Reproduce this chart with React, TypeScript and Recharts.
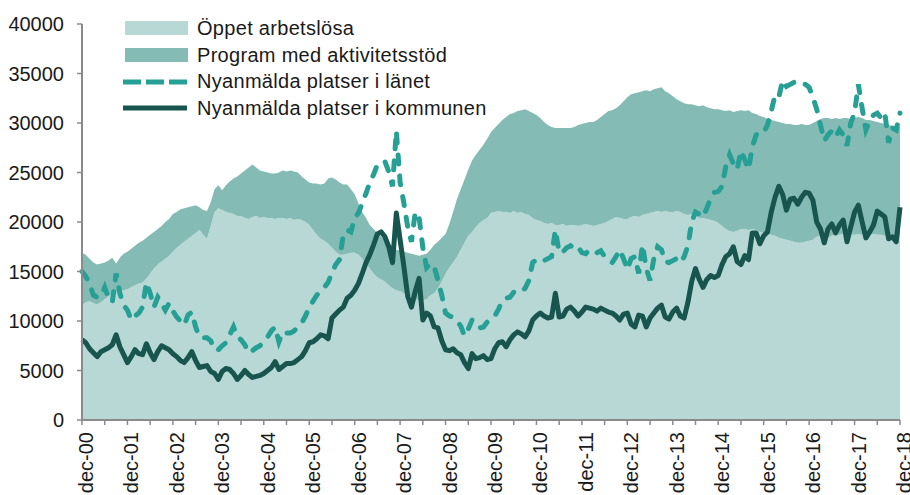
import React from 'react';
import { ComposedChart, Area, Line, XAxis, YAxis } from 'recharts';

// monthly values, dec-00 .. dec-18
const oppetArbetslosa = [
  11600, 11900, 12000, 11800, 11700, 11900, 12200, 12500, 12800, 12900, 13000, 13100,
  13200, 13400, 13600, 13800, 13900, 14300, 14800, 15300, 15700, 16000, 16300, 16600,
  17000, 17400, 17700, 18000, 18300, 18600, 18900, 19200, 18700, 18300, 19600, 21000,
  21400, 21200, 21000, 20900, 20800, 20600, 20600, 20400, 20300, 20500, 20600, 20400,
  20500, 20400, 20400, 20300, 20400, 20400, 20300, 20400, 20200, 20300, 20200, 20000,
  19700, 19200, 18700, 18300, 18100, 17800, 17400, 17000, 16700, 16700, 16800, 16900,
  16900, 16700, 16300, 15800, 15300, 14800, 14400, 14200, 14000, 13600, 13300, 13100,
  13000, 12800, 12600, 12400, 12200, 12100, 12100, 12200, 12600, 12800, 13300, 14000,
  14800, 15400, 15900, 16500, 17200, 17900, 18600, 19000, 19500, 19900, 20200, 20400,
  20900, 21000, 21100, 21000, 21000, 20900, 21100, 20900, 21000, 20800, 20700, 20400,
  20200, 20100, 19900, 19800, 19900, 19700, 19700, 19800, 19600, 19700, 19700, 19600,
  19700, 19800, 19700, 19600, 19700, 19800, 19900, 20100, 20300, 20500, 20400, 20300,
  20300, 20500, 20600, 20500, 20700, 20800, 20900, 21000, 21100, 21000, 21100, 21000,
  21000, 21100, 21000, 20800, 20700, 20800, 20600, 20400, 20400, 20300, 20200, 20100,
  19900, 19600, 19300, 19100, 19000, 19100, 19300, 19300, 19200, 19300, 19200, 19000,
  18900, 18800, 18700, 18600, 18400, 18300, 18200, 18100, 18000, 17900, 17900, 18000,
  18100, 18200, 18500, 18600, 18500, 18400, 18600, 18700, 18700, 18800, 18700, 18700,
  18700, 18800, 18700, 18600, 18700, 18800, 18700, 18700, 18600, 18500, 18600, 18700,
  18700,
];

const programAktivitetsstod = [
  5300, 4800, 4300, 4100, 4000, 3900, 3700, 3600, 3600, 2900, 3400, 3700,
  3800, 3900, 4000, 4100, 4200, 4100, 3900, 3700, 3600, 3600, 3700, 3700,
  3800, 3600, 3600, 3400, 3200, 3000, 2800, 2300, 2500, 2800, 2400, 2300,
  2300, 2000, 2700, 3200, 3600, 4000, 4300, 4800, 5200, 5300, 4900, 4800,
  4600, 4600, 4500, 4600, 4600, 4800, 4800, 4800, 4900, 4700, 4400, 4300,
  4300, 4700, 5200, 5500, 5800, 6600, 7100, 7300, 7300, 7100, 7000, 6400,
  5900, 5200, 4700, 4600, 4400, 4500, 4500, 4300, 4200, 4200, 4200, 4100,
  4100, 4200, 4300, 4400, 4500, 4500, 4600, 4600, 4600, 4900, 4700, 4400,
  4000, 4400, 5100, 5800, 6100, 6400, 6700, 7200, 7300, 7400, 7600, 8000,
  8200, 8500, 8800, 9300, 9600, 10000, 9900, 10300, 10300, 10600, 10500, 10600,
  10600, 10400, 10200, 10000, 9700, 9800, 9800, 9700, 9900, 9800, 9900, 10200,
  10200, 10200, 10400, 10500, 10600, 10800, 11000, 11100, 11000, 11000, 11400, 11900,
  12300, 12400, 12400, 12600, 12500, 12500, 12300, 12400, 12400, 12600, 12100, 12000,
  11700, 11300, 11200, 11200, 11200, 11100, 11200, 11300, 11400, 11300, 11300, 11300,
  11500, 11700, 11900, 12200, 12100, 12100, 12000, 11900, 12100, 11700, 11700, 11700,
  11700, 11600, 11600, 11600, 11700, 11700, 11700, 11800, 11800, 11900, 12000, 11800,
  11700, 11800, 11700, 11800, 12000, 12100, 11800, 11800, 11700, 11700, 11800, 11700,
  11800, 11800, 11800, 11700, 11600, 11400, 11400, 11300, 11300, 11300, 11100, 10900,
  10900,
];

const platserLanet = [
  15000, 14500, 13800, 12600, 12400, 12500, 13400, 12300, 11900, 14800, 12800, 11600,
  11100, 10100, 10500, 10800, 11400, 13900, 12800, 11400, 12400, 11800, 11100, 11800,
  11000, 10400, 10000, 9600, 10600, 10900, 9400, 8400, 8300, 8300, 8000, 7100,
  7100, 7500, 7800, 8600, 9400, 8400, 8100, 7600, 6800, 7000, 7300, 7500,
  7900, 8400, 9000, 9400, 7900, 8900, 8800, 8800, 9000, 9400, 9800, 10500,
  11400, 12000, 12600, 13100, 13400, 13900, 14900, 15700, 16200, 18700, 19200, 19000,
  20400, 20900, 21900, 22900, 24000, 24800, 25800, 26000, 26100, 25100, 23600, 29200,
  24000, 21900, 19500, 18000, 21000, 20500, 17400, 15400, 15800, 15500, 14100, 12600,
  10800, 10500, 10400, 10000, 9500, 8500, 9200, 10100, 9800, 9300, 9400, 9900,
  10200, 10500, 11200, 12100, 12300, 12400, 12900, 13100, 13000, 13300, 14100, 15900,
  16200, 16300, 16100, 16300, 16500, 19200, 16900, 17000, 17400, 17600, 17300, 17500,
  16900, 16800, 17200, 17100, 16900, 17100, 16500, 16200, 15900, 16500, 17200, 16300,
  15200, 16300, 16500, 14800, 17700, 15300, 14100, 16300, 17500, 17200, 16000, 15900,
  16100, 16300, 15900, 16500, 17600, 20000, 21000, 20800, 20500, 21400, 22400, 23000,
  23100, 23600, 25600, 26800, 25900, 25300, 27200, 26300, 25300, 27600, 28800, 29000,
  29000, 29800, 31200, 32800, 32600, 34300, 33700, 33900, 34100, 33900, 34000, 33900,
  33600, 32600, 31400, 29800, 28200, 28800, 29200, 28600, 29300, 28800, 27700, 30000,
  31000, 33900, 31500, 29300, 30200, 30800, 31000, 30500, 31000, 28000, 29500, 29300,
  31000,
];

const platserKommunen = [
  8100, 7800, 7200, 6800, 6400, 6900, 7100, 7300, 7600, 8600, 7400, 6600,
  5800, 6400, 7100, 6700, 6600, 7700, 6800, 6100, 6900, 7500, 7300, 7100,
  6700, 6400, 6000, 5800, 6300, 6900, 6000, 5300, 5400, 5500, 4900, 4700,
  4100, 4900, 5200, 5100, 4700, 4100, 4500, 5000, 4600, 4300, 4400, 4500,
  4700, 5000, 5300, 5900, 5100, 5400, 5700, 5700, 5800, 6100, 6400, 7000,
  7800, 7900, 8200, 8600, 8500, 8200, 10300, 10700, 11100, 11400, 12300, 12600,
  13100, 13800, 14800, 15900, 16700, 17700, 18800, 19000, 18500, 17500, 15900, 20900,
  18200, 15500, 12500, 11400, 13000, 14300, 10100, 10800, 10500, 9400, 9300, 8000,
  7100, 7000, 7200, 6800, 6600, 5800, 5200, 6700, 6200, 6300, 6500, 6100,
  6200, 7200, 7800, 7900, 7400, 8100, 8600, 8900, 8700, 8400, 9000, 10100,
  10500, 10800, 10500, 10300, 10400, 12800, 10400, 10500, 11200, 11400, 11000, 10500,
  10900, 11400, 11300, 11200, 11000, 11300, 11100, 10900, 10800, 10500, 10100, 10700,
  10800, 9700, 9400, 10600, 10500, 9400, 10300, 10800, 11300, 11600, 10400, 10200,
  10900, 11300, 10500, 10300, 11900, 14000, 15300, 14200, 13400, 14200, 14600, 14400,
  14600, 15700, 16500, 16800, 17500, 16000, 15700, 16600, 16200, 18900, 18900, 17800,
  18600, 19000, 21000, 22500, 23600, 22800, 21200, 22300, 22400, 21800, 22500, 23000,
  22900, 22200, 20000, 19300, 17900, 19300, 19800, 18900, 19700, 20200, 18000, 19500,
  21000, 21700, 20000, 18400, 19000, 19700, 21100, 20800, 20500, 18300, 18500, 18000,
  21500,
];

const monthNames = ['dec', 'jan', 'feb', 'mar', 'apr', 'maj', 'jun', 'jul', 'aug', 'sep', 'okt', 'nov'];
const yTicks = [0, 5000, 10000, 15000, 20000, 25000, 30000, 35000, 40000];

const labels = oppetArbetslosa.map(
  (_, i) => `${monthNames[i % 12]}-${String(Math.ceil(i / 12)).padStart(2, '0')}`
);

const data = labels.map((label, i) => ({
  label,
  oppet: oppetArbetslosa[i],
  program: programAktivitetsstod[i],
  lanet: platserLanet[i],
  kommun: platserKommunen[i],
}));

const FONT = '"Liberation Sans", Arial, sans-serif';
const TEXT = '#1a1a1a';
const AXIS = '#8a8a8a';

const C_OPPET = '#b8d8d6';
const C_PROGRAM = '#84bbb4';
const C_LANET = '#26a094';
const C_KOMMUN = '#18554e';

const XTick = (props: any) => {
  const { x, y, payload } = props;
  const v = String(payload.value);
  if (!v.startsWith('dec')) return <g />;
  return (
    <g transform={`translate(${x},${y})`}>
      <text transform="rotate(-90)" x={-5} y={11} textAnchor="end" fontSize={20} fill={TEXT} fontFamily={FONT}>
        {v}
      </text>
    </g>
  );
};

const legendRows = [
  { name: 'Öppet arbetslösa', kind: 'area', color: C_OPPET },
  { name: 'Program med aktivitetsstöd', kind: 'area', color: C_PROGRAM },
  { name: 'Nyanmälda platser i länet', kind: 'dash', color: C_LANET },
  { name: 'Nyanmälda platser i kommunen', kind: 'line', color: C_KOMMUN },
];

const ChartLegend = () => (
  <div style={{ position: 'absolute', left: 123, top: 15, fontFamily: FONT, fontSize: 20, color: TEXT, letterSpacing: 0.3 }}>
    {legendRows.map((r) => (
      <div key={r.name} style={{ display: 'flex', alignItems: 'center', height: 26.7, whiteSpace: 'nowrap' }}>
        <svg width={66} height={16} style={{ marginRight: 8 }}>
          {r.kind === 'area' && <rect x={2} y={1} width={63} height={14} fill={r.color} />}
          {r.kind === 'dash' && (
            <line x1={0} y1={8} x2={64} y2={8} stroke={r.color} strokeWidth={5} strokeDasharray="18 5" />
          )}
          {r.kind === 'line' && <line x1={0} y1={8} x2={64} y2={8} stroke={r.color} strokeWidth={5} />}
        </svg>
        <span>{r.name}</span>
      </div>
    ))}
  </div>
);

export default function App() {
  return (
    <div style={{ position: 'absolute', left: 0, top: 0, width: 910, height: 495, background: '#fff' }}>
      <ComposedChart width={910} height={495} data={data} margin={{ top: 24, right: 10, bottom: 0, left: 0 }}>
        <XAxis
          dataKey="label"
          scale="point"
          interval={5}
          height={75}
          tick={<XTick />}
          tickSize={5}
          tickMargin={2}
          axisLine={{ stroke: AXIS, strokeWidth: 2 }}
          tickLine={{ stroke: AXIS, strokeWidth: 1.5 }}
        />
        <YAxis
          width={82}
          domain={[0, 40000]}
          ticks={yTicks}
          interval={0}
          tickSize={5}
          tickMargin={13}
          axisLine={{ stroke: AXIS, strokeWidth: 2 }}
          tickLine={{ stroke: AXIS, strokeWidth: 1.5 }}
          tick={{ fontSize: 20, fill: TEXT, fontFamily: FONT }}
        />
        <Area
          type="linear"
          dataKey="oppet"
          stackId="1"
          stroke="none"
          fill={C_OPPET}
          fillOpacity={1}
          isAnimationActive={false}
        />
        <Area
          type="linear"
          dataKey="program"
          stackId="1"
          stroke="none"
          fill={C_PROGRAM}
          fillOpacity={1}
          isAnimationActive={false}
        />
        <Line
          type="linear"
          dataKey="lanet"
          stroke={C_LANET}
          strokeWidth={5}
          strokeDasharray="9 12"
          strokeLinecap="round"
          dot={false}
          activeDot={false}
          isAnimationActive={false}
        />
        <Line
          type="linear"
          dataKey="kommun"
          stroke={C_KOMMUN}
          strokeWidth={5}
          strokeLinejoin="round"
          dot={false}
          activeDot={false}
          isAnimationActive={false}
        />
      </ComposedChart>
      <ChartLegend />
    </div>
  );
}
